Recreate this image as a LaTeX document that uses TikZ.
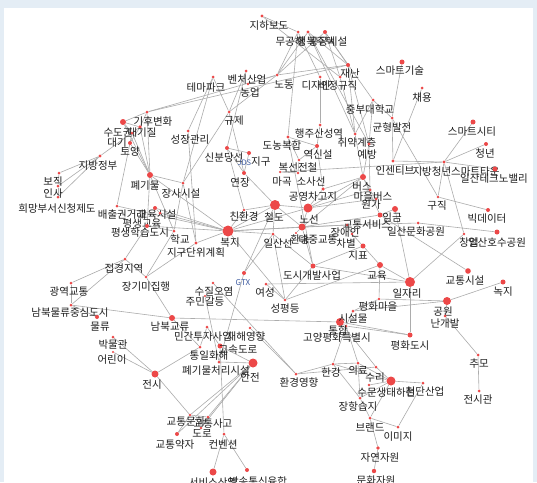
\documentclass[tikz,border=0pt]{standalone}
\usepackage{fontspec}
\setmainfont{Noto Sans CJK KR}
\usetikzlibrary{backgrounds}
\definecolor{dotred}{RGB}{236,72,72}
\definecolor{edgegray}{RGB}{172,172,172}
\definecolor{framebg}{RGB}{228,237,245}
\definecolor{gtxblue}{RGB}{60,90,160}
\tikzset{
  dot/.style={circle,fill=dotred,inner sep=0pt,draw=none},
  lbl/.style={inner sep=0pt,font=\fontsize{10.5}{11}\selectfont,text=black!88},
  edge/.style={draw=edgegray,line width=0.6pt}
}
\newcommand\nd[7]{\node[dot,minimum size=#4pt] (d#1) at (#2,#3) {};\node[lbl] (l#1) at (#6,#7) {#5};}
\begin{document}
\begin{tikzpicture}[x=1pt,y=-1pt]
\useasboundingbox (0,0) rectangle (537,482);
\nd{01}{262}{16}{3.2}{지하보도}{269}{26}
\nd{02}{298}{32}{3}{무공해}{290}{42}
\nd{03}{308}{32}{3.4}{행복주택}{316}{42}
\nd{04}{325}{32}{4}{공공시설}{328}{42}
\nd{05}{348}{65}{4}{재난}{350}{74}
\nd{06}{320}{77}{3}{디자인}{316}{86}
\nd{07}{340}{77}{3}{비정규직}{338}{86}
\nd{08}{277}{75}{3}{노동}{284}{85}
\nd{09}{246}{71}{3}{벤처산업}{247}{80}
\nd{10}{213}{77}{3}{테마파크}{206}{88}
\nd{11}{248}{84}{2.8}{농업}{250}{93}
\nd{12}{229}{112}{3}{규제}{234}{121}
\nd{13}{402}{62}{5}{스마트기술}{400}{71}
\nd{14}{422}{88}{3}{채용}{422}{98}
\nd{15}{373}{100}{3}{중부대학교}{370}{110}
\nd{16}{392}{118}{3}{균형발전}{392}{128}
\nd{17}{320}{125}{3}{행주산성역}{319}{134}
\nd{18}{355}{134}{3}{취약계층}{357}{143}
\nd{19}{369}{144}{3.2}{예방}{367}{155}
\nd{20}{288}{137}{3.4}{도농복합}{282}{146}
\nd{21}{317}{146}{4}{역신설}{318}{155}
\nd{22}{299}{160}{2.8}{복선전철}{298}{168}
\nd{23}{298}{173}{2.8}{소사선}{311}{182}
\nd{24}{280}{172}{2.5}{마곡}{282}{182}
\nd{25}{323}{189}{3.5}{공영차고지}{313}{197}
\nd{26}{275}{205}{10}{철도}{274}{217}
\nd{27}{244}{210}{2.8}{친환경}{244}{217}
\nd{28}{308}{208}{9}{노선}{309}{219}
\nd{29}{227}{148}{4}{신분당선}{224}{158}
\nd{30}{249}{153}{4}{{\color{gtxblue}\fontsize{7.5}{8}\selectfont JDS}지구}{254}{162}
\nd{31}{244}{173}{4}{연장}{240}{183}
\nd{32}{188}{131}{3}{성장관리}{190}{140}
\nd{33}{150}{175}{6}{폐기물}{145}{186}
\nd{34}{183}{183}{3}{장사시설}{181}{194}
\nd{35}{147}{112}{3}{기후변화}{153}{122}
\nd{36}{123}{122}{6}{수도권}{118}{133}
\nd{37}{140}{127}{3.6}{대기질}{142}{133}
\nd{38}{132}{133}{3}{대기}{117}{143}
\nd{39}{130}{143}{4}{토양}{130}{152}
\nd{40}{100}{156}{3.2}{지방정부}{98}{166}
\nd{41}{59}{173}{3}{보직}{53}{182}
\nd{42}{58}{186}{3}{인사}{53}{194}
\nd{43}{58}{197}{3}{희망부서신청제도}{57}{209}
\nd{44}{117}{206}{3}{배출권거래}{122}{215}
\nd{45}{155}{208}{4}{교육시설}{157}{215}
\nd{46}{160}{213}{3}{평생교육}{142}{224}
\nd{47}{147}{226}{4}{평생학습도시}{140}{233}
\nd{48}{174}{231}{3}{학교}{180}{240}
\nd{49}{196}{243}{3.2}{지구단위계획}{196}{253}
\nd{50}{228}{231}{11}{복지}{230}{243}
\nd{51}{273}{234}{3}{일산선}{278}{243}
\nd{52}{302}{227}{7}{대중교통}{318}{240}
\nd{53}{296}{233}{2.4}{환승}{300}{240}
\nd{54}{347}{225}{3}{장애인}{345}{233}
\nd{55}{352}{234}{2.8}{차별}{346}{244}
\nd{56}{363}{246}{5}{지표}{358}{256}
\nd{57}{380}{215}{5}{교통서비스}{367}{225}
\nd{58}{395}{209}{6}{임금}{392}{218}
\nd{59}{363}{177}{6}{버스}{362}{187}
\nd{60}{370}{190}{3}{마을버스}{373}{197}
\nd{61}{376}{199}{3}{원가}{371}{205}
\nd{62}{393}{161}{3.2}{인센티브}{395}{171}
\nd{63}{444}{162}{3.2}{지방청년스마트타운}{456}{172}
\nd{64}{473}{122}{5}{스마트시티}{472}{132}
\nd{65}{486}{144}{4}{청년}{485}{154}
\nd{66}{495}{169}{5}{일산테크노밸리}{494}{179}
\nd{67}{438}{197}{2.8}{구직}{437}{206}
\nd{68}{488}{210}{4}{빅데이터}{487}{219}
\nd{69}{418}{223}{3}{일산문화공원}{416}{232}
\nd{70}{464}{234}{2.8}{창업}{469}{243}
\nd{71}{497}{232}{5}{일산호수공원}{497}{243}
\nd{72}{380}{265}{6}{교육}{377}{276}
\nd{73}{410}{282}{10}{일자리}{407}{294}
\nd{74}{468}{271}{5.6}{교통시설}{465}{281}
\nd{75}{503}{282}{5}{녹지}{503}{292}
\nd{76}{447}{301}{8}{공원}{443}{312}
\nd{77}{445}{316}{3}{난개발}{445}{324}
\nd{78}{379}{299}{2.8}{평화마을}{378}{307}
\nd{79}{313}{266}{5}{도시개발사업}{312}{276}
\nd{80}{244}{273}{4}{{\color{gtxblue}\fontsize{8}{9}\selectfont GTX}}{243}{283}
\nd{81}{266}{284}{3}{여성}{265}{293}
\nd{82}{285}{300}{2.8}{성평등}{285}{309}
\nd{83}{213}{283}{2.6}{수질오염}{214}{292}
\nd{84}{205}{296}{2.4}{주민갈등}{205}{302}
\nd{85}{125}{259}{3}{접경지역}{124}{269}
\nd{86}{71}{283}{3}{광역교통}{69}{292}
\nd{87}{146}{277}{2.8}{장기미집행}{146}{287}
\nd{88}{71}{305}{3}{남북물류중심도시}{70}{313}
\nd{89}{97}{317}{4}{물류}{100}{327}
\nd{90}{172}{318}{6}{남북교류}{170}{327}
\nd{91}{113}{337}{3}{박물관}{113}{345}
\nd{92}{113}{352}{2.4}{어린이}{112}{360}
\nd{93}{155}{374}{7}{전시}{152}{385}
\nd{94}{207}{327}{3}{민간투자사업}{203}{337}
\nd{95}{250}{328}{2.8}{재해영향}{246}{337}
\nd{96}{200}{347}{3}{통일화해}{209}{356}
\nd{97}{220}{346}{5}{고속도로}{238}{350}
\nd{98}{219}{362}{3}{폐기물처리시설}{216}{371}
\nd{99}{253}{363}{9}{안전}{250}{377}
\nd{100}{296}{374}{3}{환경영향}{299}{383}
\nd{101}{346}{326}{3}{고양평화특별시}{337}{338}
\nd{102}{340}{322}{8}{통합}{338}{331}
\nd{103}{353}{311}{3}{시설물}{353}{319}
\nd{104}{410}{335}{5}{평화도시}{410}{346}
\nd{105}{333}{364}{3}{한강}{331}{373}
\nd{106}{358}{363}{3}{의료}{358}{371}
\nd{107}{376}{367}{3}{수리}{375}{378}
\nd{108}{391}{381}{9}{생태하천}{396}{393}
\nd{109}{369}{385}{2.6}{수문}{367}{393}
\nd{110}{423}{383}{3}{첨단산업}{425}{391}
\nd{111}{360}{398}{3}{장항습지}{358}{407}
\nd{112}{370}{418}{3}{브랜드}{370}{427}
\nd{113}{398}{427}{3}{이미지}{398}{437}
\nd{114}{378}{448}{3.6}{자연자원}{380}{458}
\nd{115}{374}{471}{4.4}{문화자원}{376}{481}
\nd{116}{478}{355}{3}{추모}{479}{364}
\nd{117}{479}{391}{3}{전시관}{478}{400}
\nd{118}{177}{434}{4}{교통약자}{175}{445}
\nd{119}{190}{415}{2.6}{교통문화}{186}{422}
\nd{120}{208}{417}{3}{교통사고}{213}{424}
\nd{121}{201}{428}{2.6}{도로}{202}{434}
\nd{122}{224}{434}{3}{컨벤션}{223}{444}
\nd{123}{213}{472}{7}{서비스산업}{213}{483}
\nd{124}{247}{470}{4}{방송통신융합}{258}{482}
\begin{scope}[on background layer]
\fill[framebg] (0,0) rectangle (537,482);
\fill[white] (4,8) rectangle (533,482);
\foreach \a/\b in {01/07,01/02,02/08,03/08,04/08,02/06,03/05,04/05,04/15,03/19,02/20,04/07,03/18,08/35,08/05,08/11,08/12,
09/29,09/12,10/32,10/34,10/12,06/17,07/18,05/19,05/18,35/05,12/34,12/31,13/16,14/62,15/16,15/18,15/19,16/62,16/67,
17/21,19/59,18/59,19/60,20/79,20/21,20/22,21/22,22/23,23/24,24/63,21/25,25/28,25/59,26/28,26/52,26/27,26/31,26/80,26/50,26/51,
27/29,27/50,28/59,28/52,28/50,28/60,28/61,29/30,30/31,29/31,32/49,33/34,33/36,33/37,33/38,33/39,33/35,33/47,33/48,33/50,
34/48,34/49,35/36,35/37,36/37,36/38,37/39,38/39,39/44,40/37,40/41,40/42,40/43,41/42,42/43,44/50,45/50,46/50,47/50,45/46,47/48,
47/85,48/87,49/87,49/50,50/54,50/52,50/51,50/82,51/80,51/82,51/79,52/57,52/59,52/54,52/79,53/52,54/55,55/56,56/72,56/79,
57/58,57/74,57/59,58/73,59/60,60/61,62/63,63/64,63/65,63/66,63/67,63/70,67/68,69/71,69/54,70/73,72/78,72/73,72/82,73/81,73/79,73/104,
76/75,76/78,76/77,76/103,77/116,116/117,78/103,79/82,81/82,80/98,83/100,84/98,85/86,85/88,86/88,85/87,87/90,88/90,89/88,
90/102,90/96,91/93,92/93,93/96,93/119,94/97,95/100,94/96,97/122,97/99,98/99,99/118,99/119,99/120,99/121,100/105,100/107,
101/102,101/104,102/104,103/101,101/105,101/106,102/107,105/106,105/108,106/108,107/108,105/111,106/111,
108/109,108/110,108/111,108/112,110/113,112/113,112/114,114/115,111/112,118/119,119/120,120/121,122/123,122/124}
  \draw[edge] (d\a) -- (d\b);
\end{scope}
\end{tikzpicture}
\end{document}
